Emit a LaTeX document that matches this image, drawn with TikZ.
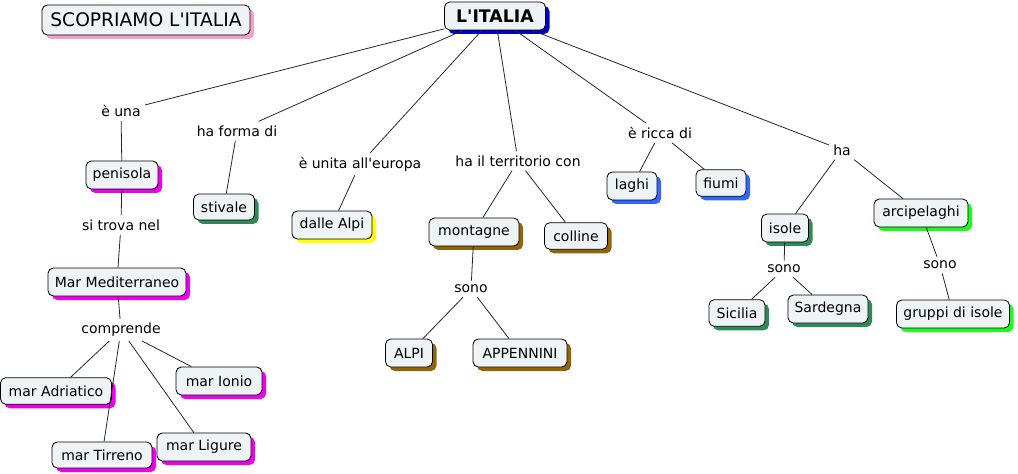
\documentclass[tikz,border=0pt]{standalone}
\usepackage{fontspec}
\setmainfont{DejaVu Sans}
\usetikzlibrary{shadows}
\definecolor{boxfill}{RGB}{238,243,245}
\definecolor{shpink}{RGB}{245,160,200}
\definecolor{shblue}{RGB}{0,0,204}
\definecolor{shmag}{RGB}{238,0,238}
\definecolor{shgreen}{RGB}{46,139,87}
\definecolor{shyellow}{RGB}{255,255,0}
\definecolor{shbrown}{RGB}{145,100,10}
\definecolor{shroyal}{RGB}{51,102,255}
\definecolor{shlime}{RGB}{30,250,30}
\tikzset{
  concept/.style={draw=black, fill=boxfill, rounded corners=4pt, minimum height=21pt,
    inner xsep=3pt, inner ysep=2pt, line width=0.6pt, font=\fontsize{10.5}{12}\selectfont},
  sh/.style={drop shadow={fill=#1, opacity=1, shadow xshift=3pt, shadow yshift=-3pt}},
  link/.style={font=\fontsize{10.5}{12}\selectfont, inner sep=3pt},
  conn/.style={line width=0.6pt, draw=black!85},
}
\begin{document}
\begin{tikzpicture}[x=0.75pt, y=-0.75pt]
\useasboundingbox (0,0) rectangle (1018,474);
% concepts
\node[concept, sh=shpink, minimum width=156pt, minimum height=22.5pt, font=\fontsize{14}{16}\selectfont] (title) at (146,20) {SCOPRIAMO L\textquotesingle ITALIA};
\node[concept, sh=shblue, minimum width=75.75pt, font=\bfseries\fontsize{13}{15}\selectfont] (italia) at (495,16) {L\textquotesingle ITALIA};
\node[concept, sh=shmag, minimum width=54pt] (penisola) at (122,175) {penisola};
\node[concept, sh=shgreen, minimum width=45.75pt, minimum height=19.5pt] (stivale) at (224,207) {stivale};
\node[concept, sh=shyellow, minimum width=60pt] (dalle) at (332,225) {dalle Alpi};
\node[concept, sh=shbrown, minimum width=67.5pt] (montagne) at (474,232) {montagne};
\node[concept, sh=shbrown, minimum width=47.25pt, minimum height=20pt] (colline) at (576,236) {colline};
\node[concept, sh=shroyal, minimum width=37.5pt] (laghi) at (632,186) {laghi};
\node[concept, sh=shroyal, minimum width=37.5pt, minimum height=20pt] (fiumi) at (721,183) {fiumi};
\node[concept, sh=shgreen, minimum width=35.25pt] (isole) at (785,228) {isole};
\node[concept, sh=shlime, minimum width=70.5pt] (arcip) at (921,213) {arcipelaghi};
\node[concept, sh=shmag, minimum width=103.5pt] (medit) at (117,282) {Mar Mediterraneo};
\node[concept, sh=shbrown, minimum width=35.25pt] (alpi) at (409,353) {ALPI};
\node[concept, sh=shbrown, minimum width=70.5pt] (appen) at (520,353) {APPENNINI};
\node[concept, sh=shgreen, minimum width=42pt, minimum height=20pt] (sicilia) at (737,313) {Sicilia};
\node[concept, sh=shgreen, minimum width=60pt] (sardegna) at (828,309) {Sardegna};
\node[concept, sh=shlime, minimum width=84.75pt] (gruppi) at (953,314) {gruppi di isole};
\node[concept, sh=shmag, minimum width=83.25pt, minimum height=20pt] (adriatico) at (56,391) {mar Adriatico};
\node[concept, sh=shmag, minimum width=64.5pt] (ionio) at (219,381) {mar Ionio};
\node[concept, sh=shmag, minimum width=75pt, minimum height=19.5pt] (tirreno) at (102,455) {mar Tirreno};
\node[concept, sh=shmag, minimum width=70.5pt] (ligure) at (204,447) {mar Ligure};
% linking phrases
\node[link] (eruna) at (121,111) {è una};
\node[link] (forma) at (237,131) {ha forma di};
\node[link] (unita) at (360,164) {è unita all\textquotesingle europa};
\node[link] (terr) at (518,161) {ha il territorio con};
\node[link] (ricca) at (660,133) {è ricca di};
\node[link] (ha) at (842,150) {ha};
\node[link] (sitrova) at (121,225) {si trova nel};
\node[link] (compr) at (121,330) {comprende};
\node[link] (sono1) at (471,289) {sono};
\node[link] (sono2) at (784,269) {sono};
\node[link] (sono3) at (940,265) {sono};
% connectors
\draw[conn] (italia) -- (eruna);
\draw[conn] (italia) -- (forma);
\draw[conn] (italia) -- (unita);
\draw[conn] (italia) -- (terr);
\draw[conn] (italia) -- (ricca);
\draw[conn] (italia) -- (ha);
\draw[conn] (eruna) -- (penisola);
\draw[conn] (penisola) -- (sitrova);
\draw[conn] (sitrova) -- (medit);
\draw[conn] (medit) -- (compr);
\draw[conn] (compr) -- (adriatico);
\draw[conn] (compr) -- (ionio);
\draw[conn] (compr) -- (tirreno);
\draw[conn] (compr) -- (ligure);
\draw[conn] (forma) -- (stivale);
\draw[conn] (unita) -- (dalle);
\draw[conn] (terr) -- (montagne);
\draw[conn] (terr) -- (colline);
\draw[conn] (montagne) -- (sono1);
\draw[conn] (sono1) -- (alpi);
\draw[conn] (sono1) -- (appen);
\draw[conn] (ricca) -- (laghi);
\draw[conn] (ricca) -- (fiumi);
\draw[conn] (ha) -- (isole);
\draw[conn] (ha) -- (arcip);
\draw[conn] (isole) -- (sono2);
\draw[conn] (sono2) -- (sicilia);
\draw[conn] (sono2) -- (sardegna);
\draw[conn] (arcip) -- (sono3);
\draw[conn] (sono3) -- (gruppi);
\end{tikzpicture}
\end{document}
